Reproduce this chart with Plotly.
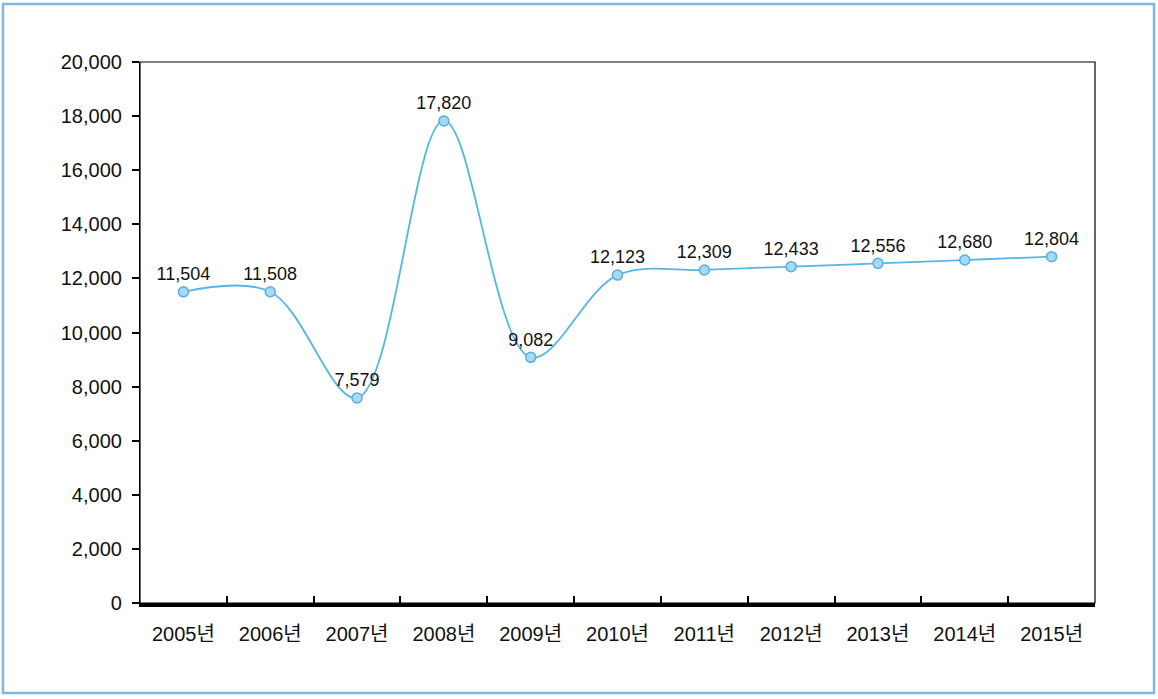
import plotly.graph_objects as go

years = ["2005년", "2006년", "2007년", "2008년", "2009년", "2010년",
         "2011년", "2012년", "2013년", "2014년", "2015년"]
values = [11504, 11508, 7579, 17820, 9082, 12123, 12309, 12433, 12556, 12680, 12804]
y_ticks = list(range(0, 20001, 2000))

fig = go.Figure()
fig.add_trace(go.Scatter(
    x=years, y=values,
    mode="lines+markers+text",
    line=dict(color="#55b6e4", width=1.8, shape="spline", smoothing=1.0),
    marker=dict(size=10, color="#a4daf3", line=dict(color="#5aaedc", width=1.5)),
    text=[f"{v:,}" for v in values],
    textposition="top center",
    textfont=dict(family="Liberation Sans, Arial", size=18, color="#111"),
    cliponaxis=False,
    showlegend=False,
))

# outer light-blue frame
fig.add_shape(type="rect", xref="paper", yref="paper",
              x0=-0.1435, x1=1.0618, y0=-0.1664, y1=1.1072,
              line=dict(color="#7fb9df", width=2.5), layer="below")
# thin frame round the plot area
fig.add_shape(type="rect", xref="paper", yref="paper",
              x0=0, x1=1, y0=0, y1=1,
              line=dict(color="black", width=1.2))

fig.update_xaxes(
    type="category", range=[-0.5, len(years) - 0.5],
    showline=True, linecolor="black", linewidth=4,
    ticks="inside", tickson="boundaries", ticklen=7, tickwidth=2, tickcolor="black",
    showgrid=False, ticklabelstandoff=10,
    tickfont=dict(family="Liberation Sans, Noto Sans CJK KR", size=20, color="#111"),
)
fig.update_yaxes(
    range=[0, 20000], tickvals=y_ticks, tickformat=",",
    showline=True, linecolor="black", linewidth=1.2,
    ticks="outside", ticklen=7, tickwidth=2, tickcolor="black",
    showgrid=False, zeroline=False, ticklabelstandoff=6,
    tickfont=dict(family="Liberation Sans, Arial", size=20, color="#111"),
)
fig.update_layout(
    width=1158, height=699,
    margin=dict(l=140, r=63, t=62, b=96),
    plot_bgcolor="white", paper_bgcolor="white",
)

fig.write_html("out.html", config={"displayModeBar": False},
               post_script="document.body.style.margin='0';")
